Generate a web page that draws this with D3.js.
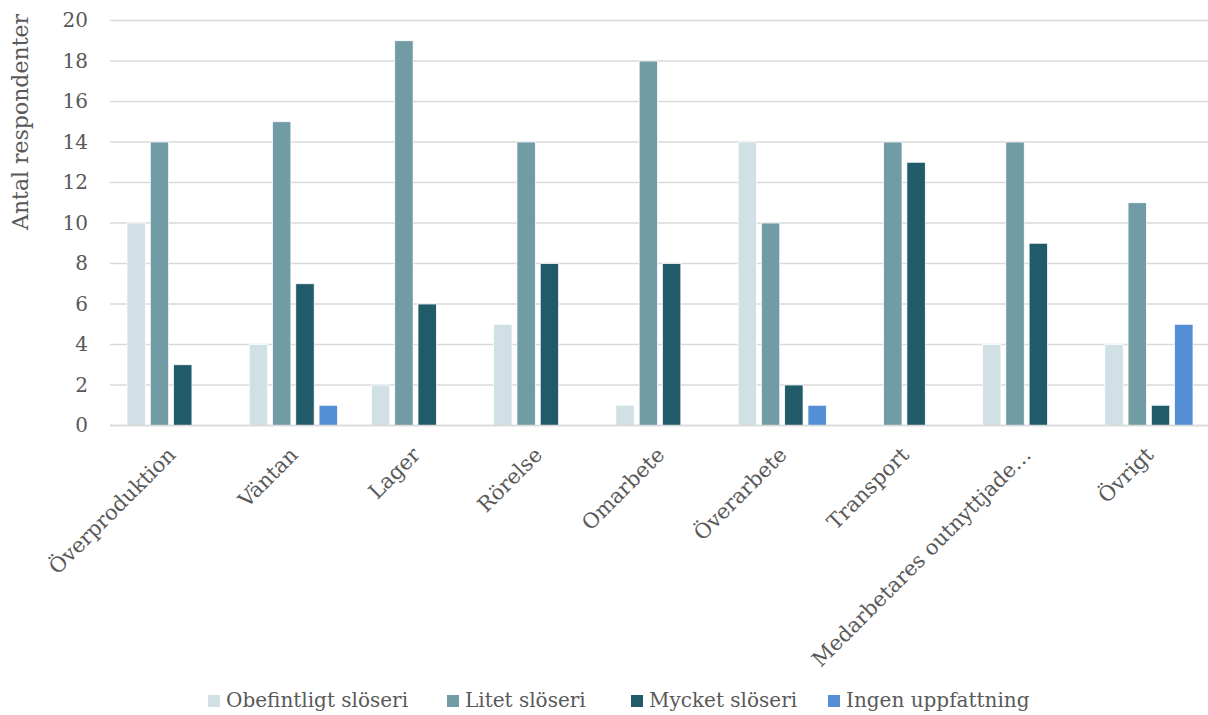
<!DOCTYPE html>
<html>
<head>
<meta charset="utf-8">
<script src="https://cdn.jsdelivr.net/npm/d3@7"></script>
<style>
  html, body { margin: 0; padding: 0; background: #fff; }
  svg text { font-family: "DejaVu Serif", serif; fill: #595959; }
</style>
</head>
<body>
<svg id="chart" width="1208" height="715"></svg>
<script>
// Typer av slöseri och antal svar per bedömning
const categories = ["Överproduktion", "Väntan", "Lager", "Rörelse", "Omarbete", "Överarbete", "Transport", "Medarbetares outnyttjade…", "Övrigt"];
const seriesNames = ["Obefintligt slöseri", "Litet slöseri", "Mycket slöseri", "Ingen uppfattning"];
const obefintligt = [10, 4, 2, 5, 1, 14, 0, 4, 4];
const litet       = [14, 15, 19, 14, 18, 10, 14, 14, 11];
const mycket      = [3, 7, 6, 8, 8, 2, 13, 9, 1];
const ingen       = [0, 1, 0, 0, 0, 1, 0, 0, 5];
const yTicks = [0, 2, 4, 6, 8, 10, 12, 14, 16, 18, 20];
const colors = ["#d1e0e5", "#719ba5", "#215a68", "#548fd6"];

const seriesValues = [obefintligt, litet, mycket, ingen];
const svg = d3.select("#chart");
const margin = { left: 110, right: 0, top: 20.5, bottom: 289.5 };
const W = 1208, H = 715;

const x = d3.scaleBand().domain(categories).range([margin.left, W - margin.right + 2]).paddingInner(0).paddingOuter(0);
const xInner = d3.scaleBand().domain(seriesNames).range([17, x.bandwidth() - 17]).paddingInner(0.21).paddingOuter(0);
const y = d3.scaleLinear().domain([0, 20]).range([H - margin.bottom, margin.top]);

// Horisontella stödlinjer
svg.append("g").selectAll("line").data(yTicks).join("line")
  .attr("x1", margin.left).attr("x2", W)
  .attr("y1", d => y(d)).attr("y2", d => y(d))
  .attr("stroke", "#d9d9d9").attr("stroke-width", 1.5);

// Y-axelns etiketter
const yAxis = d3.axisLeft(y).tickValues(yTicks).tickSize(0).tickPadding(0);
const yg = svg.append("g").attr("transform", `translate(${88},0)`).call(yAxis);
yg.select(".domain").remove();
yg.selectAll("text").style("font-size", "20px").attr("fill", "#595959").attr("font-family", "DejaVu Serif");

// Staplar
const data = categories.map((c, i) => ({ cat: c, vals: seriesNames.map((s, j) => ({ s, j, v: seriesValues[j][i] })) }));
const groups = svg.append("g").selectAll("g").data(data).join("g")
  .attr("transform", d => `translate(${x(d.cat)},0)`);
groups.selectAll("rect").data(d => d.vals.filter(v => v.v > 0)).join("rect")
  .attr("x", d => xInner(d.s))
  .attr("width", xInner.bandwidth())
  .attr("y", d => y(d.v))
  .attr("height", d => y(0) - y(d.v))
  .attr("fill", d => colors[d.j])
  .attr("stroke", "#ffffff").attr("stroke-width", 0.75);

// Baslinje
svg.append("line").attr("x1", margin.left).attr("x2", W)
  .attr("y1", y(0)).attr("y2", y(0)).attr("stroke", "#d9d9d9").attr("stroke-width", 1.5);

// X-axelns etiketter, roterade
const xAxis = d3.axisBottom(x).tickSize(0).tickPadding(0);
const xg = svg.append("g").attr("transform", `translate(0,${y(0)})`).call(xAxis);
xg.select(".domain").remove();
xg.selectAll("text")
  .style("font-size", "21px").attr("font-family", "DejaVu Serif")
  .attr("text-anchor", "end")
  .attr("dy", null).attr("y", null)
  .attr("transform", "translate(-5,20) rotate(-45)")
  .attr("dominant-baseline", "hanging");

// Y-axelns titel
svg.append("text")
  .attr("transform", `translate(22,${122}) rotate(-90)`)
  .attr("text-anchor", "middle")
  .attr("dominant-baseline", "middle")
  .style("font-size", "22px")
  .text("Antal respondenter");

// Förklaring
const legendX = [208, 447, 631, 828];
const lg = svg.append("g").selectAll("g").data(seriesNames).join("g")
  .attr("transform", (d, i) => `translate(${legendX[i]},${701})`);
lg.append("rect").attr("x", 0).attr("y", -6).attr("width", 12).attr("height", 12).attr("fill", (d, i) => colors[i]);
lg.append("text").attr("x", 18).attr("dominant-baseline", "middle").style("font-size", "20px").text(d => d);
</script>
</body>
</html>
